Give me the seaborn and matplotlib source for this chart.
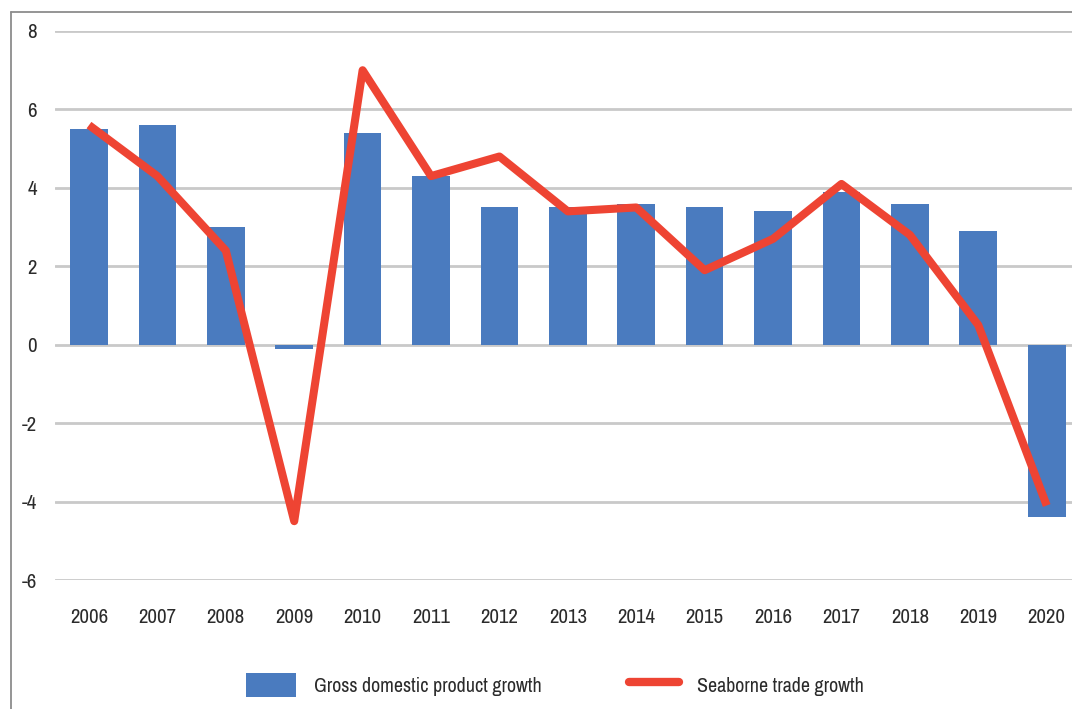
import matplotlib
matplotlib.use("Agg")
import matplotlib.pyplot as plt
from matplotlib import font_manager
from matplotlib.lines import Line2D
from matplotlib.patches import Patch
import pandas as pd
import seaborn as sns

years = ["2006", "2007", "2008", "2009", "2010", "2011", "2012", "2013",
         "2014", "2015", "2016", "2017", "2018", "2019", "2020"]
gdp_growth = [5.5, 5.6, 3.0, -0.1, 5.4, 4.3, 3.5, 3.5, 3.6, 3.5, 3.4, 3.9, 3.6, 2.9, -4.4]
seaborne_growth = [5.6, 4.3, 2.4, -4.5, 7.0, 4.3, 4.8, 3.4, 3.5, 1.9, 2.7, 4.1, 2.8, 0.5, -4.1]
y_ticks = [-6, -4, -2, 0, 2, 4, 6, 8]

bar_color = "#4A7BBF"
line_color = "#EE4433"
grid_color = "#C9C9C9"
text_color = "#2B2B2B"

sns.set_theme(style="white")

# prefer a narrow sans-serif face if one is installed
narrow = None
for f in font_manager.fontManager.ttflist:
    name = f.name.lower()
    if ("narrow" in name or "condensed" in name) and "mono" not in name and "serif" not in name.replace("sans", ""):
        narrow = f
        break
if narrow is not None:
    plt.rcParams["font.family"] = [narrow.name, "DejaVu Sans"]
    plt.rcParams["font.stretch"] = narrow.stretch
    label_size = 15
    legend_size = 14.4
else:
    plt.rcParams["font.family"] = ["Liberation Sans", "DejaVu Sans"]
    label_size = 13
    legend_size = 12.5

df = pd.DataFrame({"year": years, "gdp": gdp_growth, "trade": seaborne_growth})

fig = plt.figure(figsize=(10.72, 7.09), dpi=100)
ax = fig.add_axes([55 / 1072, 1 - 580 / 709, 1 - 55 / 1072, 549 / 709])

sns.barplot(data=df, x="year", y="gdp", color=bar_color, saturation=1,
            width=0.55, linewidth=0, ax=ax, zorder=2)
sns.lineplot(data=df, x="year", y="trade", color=line_color, linewidth=5.8,
             ax=ax, zorder=3, sort=False)
for ln in ax.lines:
    ln.set_solid_joinstyle("round")
    ln.set_solid_capstyle("butt")

ax.set_ylim(-6, 8)
ax.set_xlim(-0.497, 14.37)
ax.set_yticks(y_ticks)
ax.set_yticklabels([str(t) for t in y_ticks])
ax.yaxis.grid(True, color=grid_color, linewidth=2, zorder=0)
ax.set_axisbelow(True)
for s in ax.spines.values():
    s.set_visible(False)
ax.set_xlabel("")
ax.set_ylabel("")
ax.tick_params(axis="y", length=0, pad=13, labelsize=label_size, labelcolor=text_color)
ax.tick_params(axis="x", length=0, pad=20, labelsize=label_size, labelcolor=text_color)

# outer frame lines along the top and left edges
fig.add_artist(Line2D([11 / 1072, 1], [1 - 12 / 709, 1 - 12 / 709],
                      transform=fig.transFigure, color="#8C8C8C", linewidth=1.3))
fig.add_artist(Line2D([11 / 1072, 11 / 1072], [0, 1 - 12 / 709],
                      transform=fig.transFigure, color="#8C8C8C", linewidth=1.3))

handles = [Patch(facecolor=bar_color, edgecolor="none"),
           Line2D([0], [0], color=line_color, linewidth=6, solid_capstyle="round")]
labels = ["Gross domestic product growth", "Seaborne trade growth"]
fig.legend(handles, labels, loc="center", bbox_to_anchor=(555 / 1072, 1 - 685 / 709),
           ncol=2, frameon=False, fontsize=legend_size, handlelength=2.5, handleheight=1.5,
           handletextpad=0.9, columnspacing=4.4, labelcolor=text_color)

fig.savefig("out.png", dpi=100)
